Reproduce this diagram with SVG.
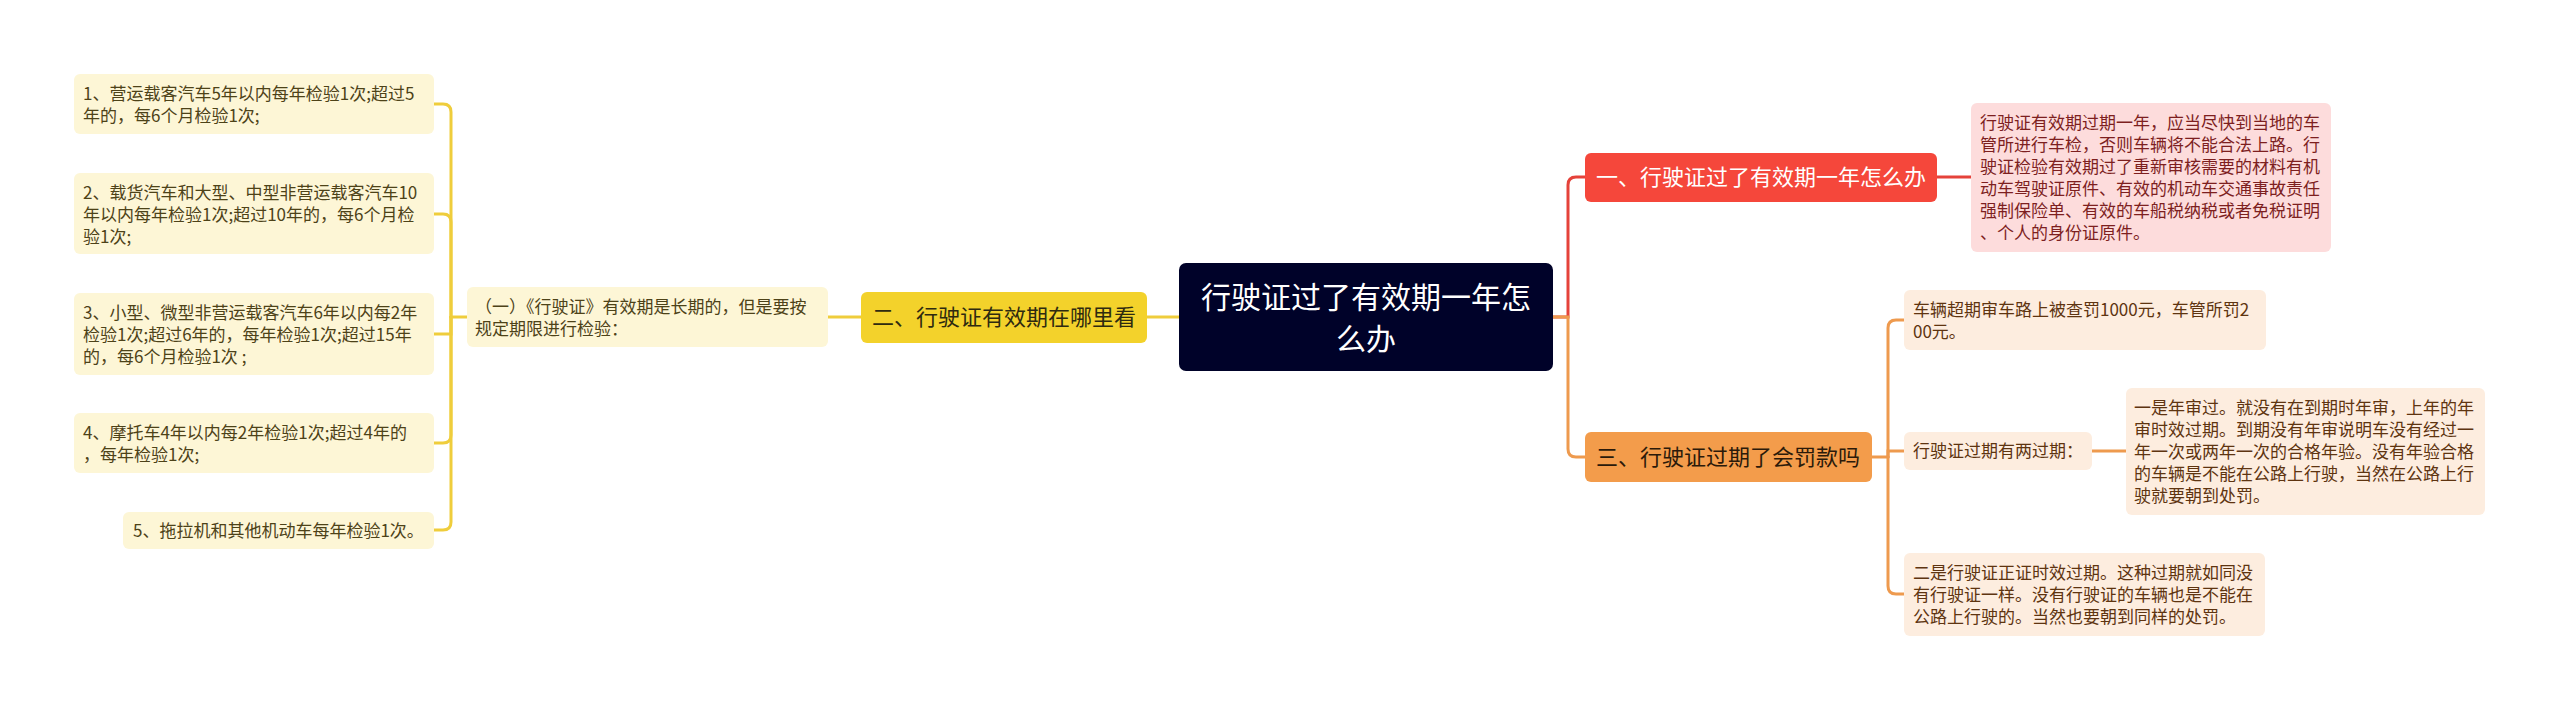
<svg xmlns="http://www.w3.org/2000/svg" width="2560" height="710" viewBox="0 0 2560 710">
<style>
text{font-family:"Noto Sans CJK SC","Noto Sans",sans-serif;}
.lf{font-size:17px;}
.ylf rect{fill:#FDF6D6;}
.ylf text{fill:#4d4218;}
.rlf rect{fill:#FDDCDC;}
.rlf text{fill:#7d1f1f;}
.olf rect{fill:#FDEDDF;}
.olf text{fill:#5e3410;}
.br text{font-size:22px;text-anchor:middle;}
.c{fill:none;stroke-width:3;stroke-linecap:round;}
.cy{stroke:#EFCD3C;}
.cr{stroke:#E5423A;}
.co{stroke:#EE9A4E;}
</style>
<rect width="2560" height="710" fill="#ffffff"/>
<g id="connectors">
<path class="c cy" d="M1179 317 H1146"/>
<path class="c cy" d="M861 317 H828"/>
<path class="c cy" d="M467 317 H451"/>
<path class="c cy" d="M451 317 V112 Q451 104 443 104 H434"/>
<path class="c cy" d="M451 317 V222 Q451 214 443 214 H434"/>
<path class="c cy" d="M451 317 V334 H434"/>
<path class="c cy" d="M451 317 V435 Q451 443 443 443 H434"/>
<path class="c cy" d="M451 317 V522 Q451 530 443 530 H434"/>
<path class="c cr" d="M1553 317 H1568 V185 Q1568 177 1576 177 H1585"/>
<path class="c co" d="M1553 317 H1568 V449 Q1568 457 1576 457 H1585"/>
<path class="c cr" d="M1937 177 H1971"/>
<path class="c co" d="M1872 457 H1888"/>
<path class="c co" d="M1888 457 V328 Q1888 320 1896 320 H1904"/>
<path class="c co" d="M1888 457 V451 H1904"/>
<path class="c co" d="M1888 457 V586 Q1888 594 1896 594 H1904"/>
<path class="c co" d="M2092 451 H2126"/>
</g>
<g id="root">
<rect x="1179" y="263" width="374" height="108" rx="7" fill="#000229"/>
<text x="1366" y="308" font-size="30" fill="#ffffff" text-anchor="middle">行驶证过了有效期一年怎</text>
<text x="1366" y="350" font-size="30" fill="#ffffff" text-anchor="middle">么办</text>
</g>
<g id="branch1" class="br">
<rect x="1585" y="153" width="352" height="49" rx="6" fill="#F5473B"/>
<text x="1761" y="185" fill="#ffffff">一、行驶证过了有效期一年怎么办</text>
</g>
<g id="branch2" class="br">
<rect x="861" y="292" width="286" height="51" rx="6" fill="#F3D22B"/>
<text x="1004" y="325" fill="#2e2a10">二、行驶证有效期在哪里看</text>
</g>
<g id="branch3" class="br">
<rect x="1585" y="432" width="287" height="50" rx="6" fill="#F39C4B"/>
<text x="1728" y="465" fill="#2b1a0a">三、行驶证过期了会罚款吗</text>
</g>
<g id="leaf-r1" class="rlf lf">
<rect x="1971" y="103" width="360" height="149" rx="6"/>
<text x="1980" y="129">行驶证有效期过期一年，应当尽快到当地的车</text>
<text x="1980" y="151">管所进行车检，否则车辆将不能合法上路。行</text>
<text x="1980" y="173">驶证检验有效期过了重新审核需要的材料有机</text>
<text x="1980" y="195">动车驾驶证原件、有效的机动车交通事故责任</text>
<text x="1980" y="217">强制保险单、有效的车船税纳税或者免税证明</text>
<text x="1980" y="239">、个人的身份证原件。</text>
</g>
<g id="leaf-y0" class="ylf lf">
<rect x="467" y="287" width="361" height="60" rx="6"/>
<text x="475" y="313">（一）《行驶证》有效期是长期的，但是要按</text>
<text x="475" y="335">规定期限进行检验：</text>
</g>
<g id="leaf-y1" class="ylf lf">
<rect x="74" y="74" width="360" height="60" rx="6"/>
<text x="83" y="100">1、营运载客汽车5年以内每年检验1次;超过5</text>
<text x="83" y="122">年的，每6个月检验1次;</text>
</g>
<g id="leaf-y2" class="ylf lf">
<rect x="74" y="173" width="360" height="81" rx="6"/>
<text x="83" y="199">2、载货汽车和大型、中型非营运载客汽车10</text>
<text x="83" y="221">年以内每年检验1次;超过10年的，每6个月检</text>
<text x="83" y="243">验1次;</text>
</g>
<g id="leaf-y3" class="ylf lf">
<rect x="74" y="293" width="360" height="82" rx="6"/>
<text x="83" y="319">3、小型、微型非营运载客汽车6年以内每2年</text>
<text x="83" y="341">检验1次;超过6年的，每年检验1次;超过15年</text>
<text x="83" y="363">的，每6个月检验1次 ;</text>
</g>
<g id="leaf-y4" class="ylf lf">
<rect x="74" y="413" width="360" height="60" rx="6"/>
<text x="83" y="439">4、摩托车4年以内每2年检验1次;超过4年的</text>
<text x="83" y="461">，每年检验1次;</text>
</g>
<g id="leaf-y5" class="ylf lf">
<rect x="123" y="512" width="311" height="37" rx="6"/>
<text x="133" y="537">5、拖拉机和其他机动车每年检验1次。</text>
</g>
<g id="leaf-o1" class="olf lf">
<rect x="1904" y="290" width="362" height="60" rx="6"/>
<text x="1913" y="316">车辆超期审车路上被查罚1000元，车管所罚2</text>
<text x="1913" y="338">00元。</text>
</g>
<g id="leaf-o2" class="olf lf">
<rect x="1904" y="432" width="188" height="38" rx="6"/>
<text x="1913" y="457">行驶证过期有两过期：</text>
</g>
<g id="leaf-o2a" class="olf lf">
<rect x="2126" y="388" width="359" height="127" rx="6"/>
<text x="2134" y="414">一是年审过。就没有在到期时年审，上年的年</text>
<text x="2134" y="436">审时效过期。到期没有年审说明车没有经过一</text>
<text x="2134" y="458">年一次或两年一次的合格年验。没有年验合格</text>
<text x="2134" y="480">的车辆是不能在公路上行驶，当然在公路上行</text>
<text x="2134" y="502">驶就要朝到处罚。</text>
</g>
<g id="leaf-o3" class="olf lf">
<rect x="1904" y="553" width="361" height="83" rx="6"/>
<text x="1913" y="579">二是行驶证正证时效过期。这种过期就如同没</text>
<text x="1913" y="601">有行驶证一样。没有行驶证的车辆也是不能在</text>
<text x="1913" y="623">公路上行驶的。当然也要朝到同样的处罚。</text>
</g>
</svg>
